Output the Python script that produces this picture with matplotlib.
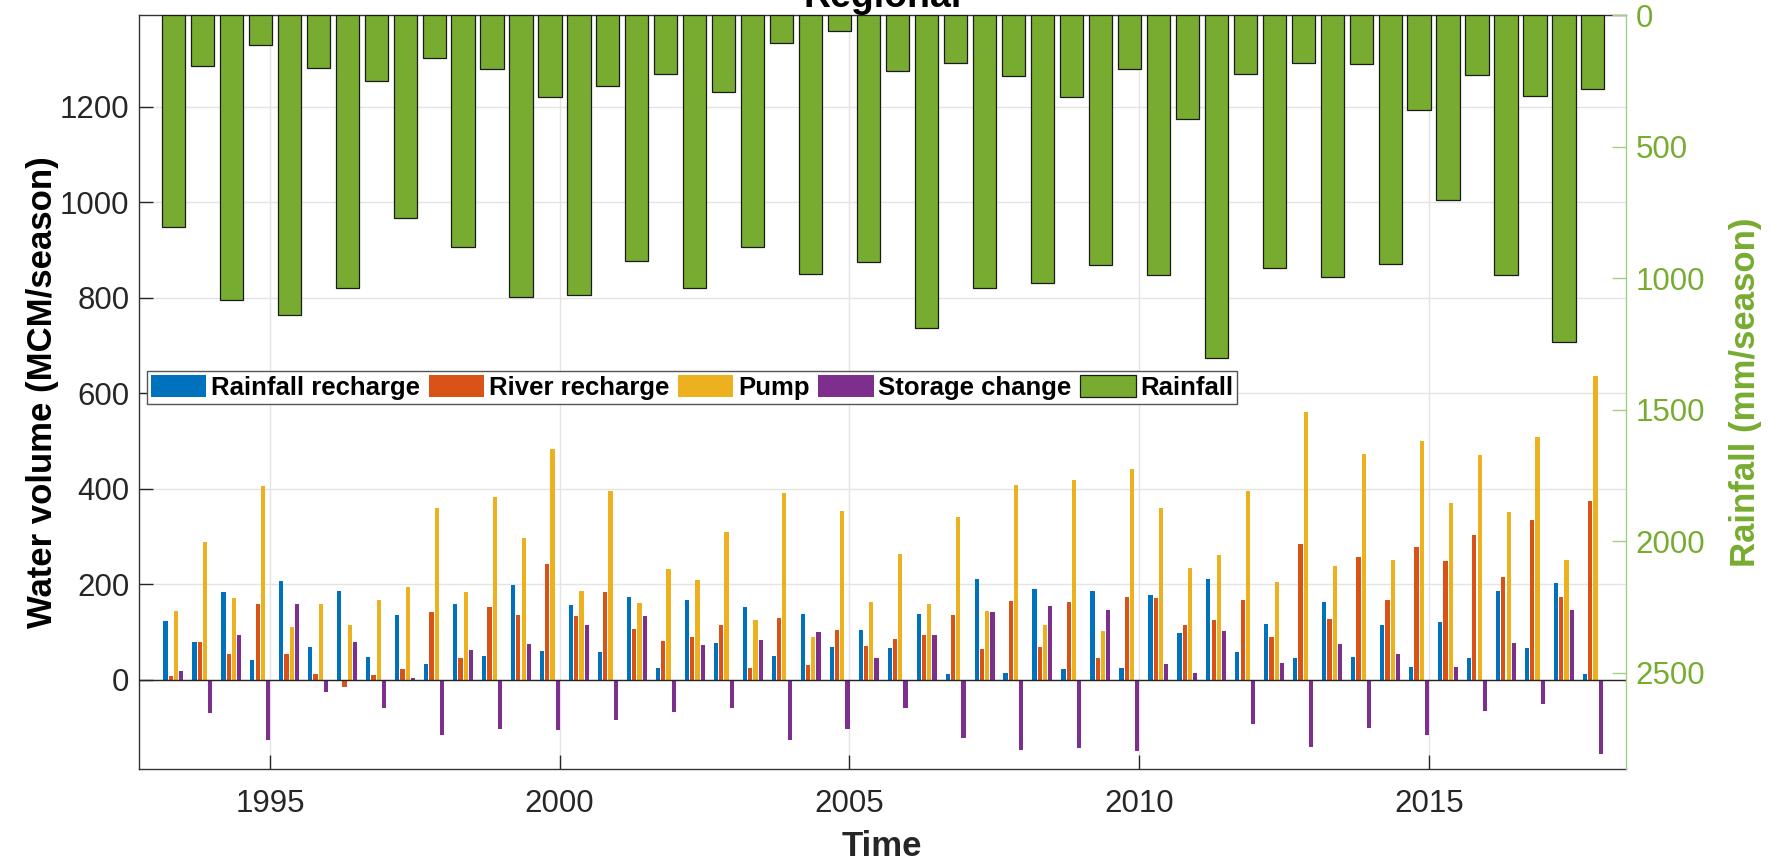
import numpy as np
import matplotlib
matplotlib.use('Agg')
import matplotlib.pyplot as plt

plt.rcParams['font.family'] = ['Liberation Sans', 'DejaVu Sans']

# two seasons per year (wet ~May, dry ~Nov)
years = list(range(1993, 2018))
season_offsets = [1 / 3, 5 / 6]

rainfall = [806, 192, 1085, 114, 1139, 201, 1036, 251, 771, 165,
            882, 206, 1072, 310, 1066, 268, 935, 223, 1036, 294,
            882, 105, 983, 62, 939, 213, 1190, 181, 1039, 230,
            1017, 310, 949, 206, 990, 395, 1302, 224, 962, 182,
            994, 185, 945, 360, 702, 228, 987, 306, 1243, 280]

rain_recharge = [123, 79, 185, 42, 207, 70, 187, 48, 137, 34,
                 160, 50, 199, 60, 156, 59, 173, 26, 168, 78,
                 152, 51, 138, 69, 104, 66, 138, 12, 212, 15,
                 191, 23, 187, 25, 177, 98, 211, 59, 118, 47,
                 164, 48, 114, 28, 121, 47, 187, 67, 203, 13]

river_recharge = [8, 79, 54, 159, 54, 13, -14, 11, 22, 142,
                  47, 153, 135, 242, 133, 185, 106, 81, 89, 115,
                  26, 129, 31, 105, 72, 86, 95, 135, 65, 166,
                  70, 164, 45, 173, 171, 115, 126, 168, 89, 284,
                  128, 257, 168, 279, 249, 303, 215, 335, 173, 375]

pump = [145, 288, 172, 406, 110, 160, 116, 167, 194, 361,
        184, 382, 298, 484, 187, 395, 161, 233, 209, 309,
        126, 391, 90, 353, 163, 263, 158, 342, 145, 408,
        114, 419, 103, 441, 359, 234, 261, 396, 205, 561,
        239, 474, 251, 500, 371, 471, 352, 509, 251, 636]

storage_change = [18, -69, 95, -126, 160, -26, 79, -59, 5, -116,
                  63, -103, 76, -105, 116, -84, 133, -68, 73, -58,
                  84, -126, 101, -103, 46, -58, 94, -121, 143, -147,
                  154, -142, 147, -149, 34, 15, 103, -93, 35, -140,
                  75, -100, 54, -116, 27, -65, 77, -51, 146, -156]

series_names = ['Rainfall recharge', 'River recharge', 'Pump', 'Storage change']
series_colors = ['#0072BD', '#D95319', '#EDB120', '#7E2F8E']
green = '#77AC30'

season_time = np.array([y + s for y in years for s in season_offsets])

fig = plt.figure(figsize=(17.75, 8.63), dpi=100)
ax = fig.add_axes([0.0783, 0.1086, 0.8376, 0.874])
ax2 = ax.twinx()

# grouped bars on the left axis
slot = 0.5 * (4 / 5.5) / 4
bw = 0.8 * slot
handles = []
for i, vals in enumerate([rain_recharge, river_recharge, pump, storage_change]):
    h = ax.bar(season_time + (i - 1.5) * slot, vals, bw, color=series_colors[i],
               linewidth=0, zorder=2)
    handles.append(h)
ax.axhline(0, color='#262626', lw=1, zorder=3)

# rainfall hanging from the top on the right axis
hr = ax2.bar(season_time, rainfall, 0.4, color=green, edgecolor='#1a1a1a', linewidth=0.9)
handles.append(hr)

ax.set_xlim(1992.74, 2018.40)
ax.set_ylim(-187, 1392)
ax.set_xticks([1995, 2000, 2005, 2010, 2015])
ax.set_yticks(range(0, 1201, 200))
ax.grid(True, color='#e4e4e4', lw=1)
ax.set_axisbelow(True)
ax.tick_params(axis='both', direction='in', length=10, width=1, colors='#262626',
               labelsize=22.5)
ax.tick_params(axis='x', pad=14)
ax.tick_params(axis='y', pad=7)
for s in ['left', 'bottom', 'top']:
    ax.spines[s].set_color('#333333')
    ax.spines[s].set_linewidth(1)
ax.spines['right'].set_visible(False)

ax2.set_ylim(2867, 0)
ax2.set_yticks(range(0, 2501, 500))
ax2.tick_params(axis='y', direction='in', length=10, width=1, colors='#a6cd85',
                labelcolor=green, labelsize=22.5, pad=7)
for s in ['left', 'bottom', 'top']:
    ax2.spines[s].set_visible(False)
ax2.spines['right'].set_color('#a6cd85')
ax2.spines['right'].set_linewidth(1)

ax.set_xlabel('Time', fontsize=25, fontweight='bold', color='#262626')
ax.xaxis.set_label_coords(0.5, -0.08)
ax.set_ylabel('Water volume (MCM/season)', fontsize=25, fontweight='bold', color='black')
ax.yaxis.set_label_coords(-0.054, 0.5)
ax2.set_ylabel('Rainfall (mm/season)', fontsize=25, fontweight='bold', color=green)
ax2.yaxis.set_label_coords(1.0695, 0.5)

ax2.text(0.5, 1 + 8.3 / 754.3, 'Regional', transform=ax.transAxes, ha='center',
         va='baseline', fontsize=27, fontweight='bold')

leg = ax2.legend(handles, series_names + ['Rainfall'], ncol=5, loc='upper left',
                 bbox_to_anchor=(147 / 1775, 1 - 371 / 863), bbox_transform=fig.transFigure,
                 prop={'weight': 'bold', 'size': 18.5}, frameon=True, fancybox=False,
                 edgecolor='#555555', framealpha=1, handlelength=2.15, handleheight=0.95,
                 handletextpad=0.18, columnspacing=0.35, borderpad=0.15, borderaxespad=0)
leg.get_frame().set_linewidth(1)

fig.savefig('out.png', dpi=100)
